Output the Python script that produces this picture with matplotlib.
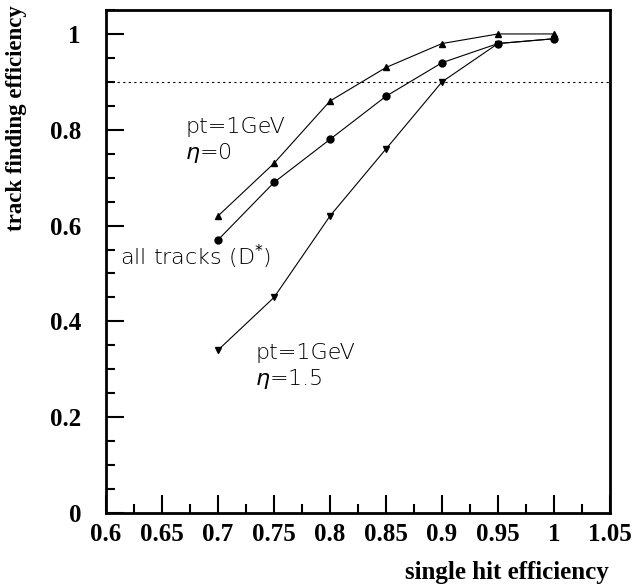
import matplotlib
matplotlib.use("Agg")
import matplotlib.pyplot as plt
from matplotlib.ticker import MultipleLocator

x = [0.7, 0.75, 0.8, 0.85, 0.9, 0.95, 1.0]
eff_eta0 = [0.62, 0.73, 0.86, 0.93, 0.98, 1.0, 1.0]
eff_all = [0.57, 0.69, 0.78, 0.87, 0.94, 0.98, 0.99]
eff_eta15 = [0.34, 0.45, 0.62, 0.76, 0.90, 0.98, 0.99]
xticks = [0.6, 0.65, 0.7, 0.75, 0.8, 0.85, 0.9, 0.95, 1.0, 1.05]
xticklabels = ["0.6", "0.65", "0.7", "0.75", "0.8", "0.85", "0.9", "0.95", "1", "1.05"]
yticks = [0, 0.2, 0.4, 0.6, 0.8, 1.0]
yticklabels = ["0", "0.2", "0.4", "0.6", "0.8", "1"]

fig = plt.figure(figsize=(6.32, 5.85), dpi=100)
L, R, T, B = 106, 610, 10, 513
ax = fig.add_axes([L/632, 1 - B/585, (R-L)/632, (B-T)/585])

ax.plot(x, eff_eta0, color="black", lw=0.8, marker="^", ms=5)
ax.plot(x, eff_all, color="black", lw=0.8, marker="o", ms=5)
ax.plot(x, eff_eta15, color="black", lw=0.8, marker="v", ms=5)
ax.axhline(0.9, color="black", lw=0.8, ls=(0, (2, 3)))

ax.set_xlim(0.6, 1.05)
ax.set_ylim(0, 1.05)
ax.set_xticks(xticks)
ax.set_xticklabels(xticklabels)
ax.set_yticks(yticks)
ax.set_yticklabels(yticklabels)
ax.xaxis.set_minor_locator(MultipleLocator(0.025))
ax.yaxis.set_minor_locator(MultipleLocator(0.05))
ax.tick_params(which="both", direction="in", top=False, right=False, width=1.5)
ax.tick_params(which="major", length=13)
ax.tick_params(which="minor", length=6.5)
ax.tick_params(axis="x", which="major", pad=7)
ax.tick_params(axis="y", which="major", pad=18)
for lab in ax.get_xticklabels() + ax.get_yticklabels():
    lab.set_fontfamily("Liberation Serif")
    lab.set_fontweight("bold")
    lab.set_fontsize(18)
for s in ax.spines.values():
    s.set_linewidth(2)

tfont = dict(family="DejaVu Sans", fontsize=16, color="black", fontweight="light")
ax.text(0.6707, 0.806, "pt=1GeV", **tfont, va="center")
ax.text(0.6707, 0.752, r"$\eta$=0", **tfont, va="center")
ax.text(0.6125, 0.535, "all tracks (D$^{*}$)", **tfont, va="center")
ax.text(0.7333, 0.335, "pt=1GeV", **tfont, va="center")
ax.text(0.7333, 0.279, r"$\eta$=1.5", **tfont, va="center")

fig.text(17/632, 1 - 5/585, "track finding efficiency", rotation=90, ha="center", va="top",
         family="Liberation Serif", fontweight="bold", fontsize=16.5)
fig.text(609/632, 1 - 572/585, "single hit efficiency", ha="right", va="center",
         family="Liberation Serif", fontweight="bold", fontsize=18)

fig.savefig("out.png", dpi=100)
